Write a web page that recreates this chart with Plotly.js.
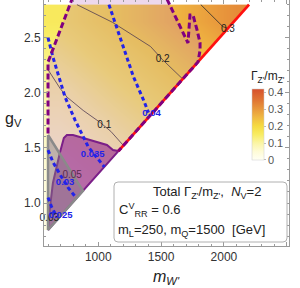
<!DOCTYPE html>
<html><head><meta charset="utf-8">
<script src="https://cdn.plot.ly/plotly-3.0.1.min.js"></script>
<style>html,body{margin:0;padding:0;background:#fff}#chart{width:300px;height:288px}</style>
</head><body><div id="chart"></div>
<script>
// ---- total width Gamma_Z'/m_Z' (heatmap grid, bin edges) ----
const gridXEdges = [568, 800, 1000, 1200, 1400, 1600, 1800, 2000, 2200];
const gridYEdges = [0.7, 1.0, 1.3, 1.6, 1.9, 2.2, 2.5, 2.8];
const widthRatio = [
  [0.033, 0.040, 0.047, 0.058, 0.072, 0.086, 0.100, 0.119],
  [0.043, 0.051, 0.065, 0.079, 0.093, 0.110, 0.129, 0.149],
  [0.058, 0.072, 0.086, 0.100, 0.119, 0.139, 0.158, 0.178],
  [0.079, 0.093, 0.110, 0.129, 0.149, 0.168, 0.187, 0.208],
  [0.100, 0.119, 0.139, 0.158, 0.178, 0.197, 0.220, 0.244],
  [0.129, 0.149, 0.168, 0.187, 0.208, 0.232, 0.256, 0.280],
  [0.158, 0.178, 0.197, 0.220, 0.244, 0.268, 0.292, 0.318]
];

// kinematic boundary
const diagX = [600, 2200];
const diagY = [0.755, 2.80];
const redX = [1160, 2200];
const redY = [1.471, 2.80];

// black contours of Gamma/m
const c01X = [600, 696, 752, 880, 1016, 1100, 1200];
const c01Y = [2.21, 2.04, 1.96, 1.84, 1.73, 1.65, 1.522];
const c02X = [830, 1112, 1416, 1512, 1672];
const c02Y = [2.80, 2.64, 2.42, 2.30, 2.125];
const c03X = [1816, 1992, 2030];
const c03Y = [2.80, 2.60, 2.585];
const blackLabels = ['0.1', '0.2', '0.3', '0.05', '0.03'];
const blackLabelX = [1048, 1512, 2032, 792, 610];
const blackLabelY = [1.70, 2.30, 2.57, 1.25, 0.86];

// blue dashed contours
const blue04X = [1085, 1232, 1280, 1360, 1400];
const blue04Y = [2.80, 2.30, 2.145, 1.935, 1.82];
const blue035X = [600, 640, 736, 816, 920, 1048];
const blue035Y = [2.50, 2.32, 1.96, 1.75, 1.51, 1.328];
const blue03X = [600, 640, 700, 760, 815];
const blue03Y = [1.48, 1.37, 1.25, 1.14, 1.06];
const blue025X = [600, 630, 672];
const blue025Y = [1.05, 0.96, 0.87];
const blueLabels = ['0.04', '0.035', '0.03', '0.025'];
const blueLabelX = [1424, 956, 736, 700];
const blueLabelY = [1.81, 1.435, 1.185, 0.885];

// purple dashed boundaries
const leftDashX = [600, 600, 614, 791];
const leftDashY = [1.63, 2.28, 2.32, 2.85];
const rightDashX = [1547, 1714, 1730, 1754, 1786, 1810, 1810, 1794, 1160];
const rightDashY = [2.85, 2.452, 2.706, 2.706, 2.57, 2.452, 2.388, 2.28, 1.471];

// excluded purple region
const blobX = [600, 616, 639, 662, 694, 726, 750, 799, 878, 990, 1069, 1117, 1160, 600];
const blobY = [0.755, 0.964, 1.182, 1.30, 1.454, 1.59, 1.617, 1.617, 1.59, 1.554, 1.527, 1.481, 1.471, 0.755];

// gray region
const grayX = [600, 878, 600, 600];
const grayY = [1.617, 1.11, 0.755, 1.617];

const FONT = 'Liberation Sans, Arial, sans-serif';

const colorscale = [
  [0, '#fffff4'], [0.12, '#fefbd6'], [0.24, '#fbf5a4'], [0.36, '#f8ec62'],
  [0.48, '#f5da40'], [0.6, '#f0b942'], [0.72, '#e8973c'], [0.84, '#e07634'], [1, '#d6502c']
];

const pinkX = leftDashX.concat(rightDashX, [diagX[0]]);
const pinkY = leftDashY.concat(rightDashY, [diagY[0]]);
const maskX = [diagX[0], diagX[1], diagX[1], 568, 568];
const maskY = [diagY[0], diagY[1], 0.5, 0.5, diagY[0]];

function line(x, y, color, width, dash) {
  return {type: 'scatter', mode: 'lines', x: x, y: y, hoverinfo: 'skip',
    line: {color: color, width: width, dash: dash || 'solid'}};
}
function fillPoly(x, y, color) {
  return {type: 'scatter', mode: 'lines', x: x, y: y, fill: 'toself', fillcolor: color,
    line: {width: 0, color: 'rgba(0,0,0,0)'}, hoverinfo: 'skip'};
}

const traces = [
  {type: 'heatmap', x: gridXEdges, y: gridYEdges, z: widthRatio, zsmooth: 'best',
   colorscale: colorscale, zmin: 0, zmax: 0.418, hoverinfo: 'skip',
   colorbar: {x: 0.849, xanchor: 'left', y: 0.3496, yanchor: 'bottom', len: 0.2886, lenmode: 'fraction',
     thickness: 12, thicknessmode: 'pixels', xpad: 0, ypad: 0, outlinewidth: 0.5, outlinecolor: '#ccc',
     tickvals: [0, 0.1, 0.2, 0.3, 0.4], ticktext: ['0', '0.1', '0.2', '0.3', '0.4'],
     ticks: 'outside', ticklen: 2, tickcolor: '#bbb', tickfont: {family: FONT, size: 11, color: '#555'}}},
  fillPoly(maskX, maskY, '#ffffff'),
  line(c01X, c01Y, '#2a2a2a', 0.8),
  line(c02X, c02Y, '#2a2a2a', 0.8),
  line(c03X, c03Y, '#2a2a2a', 0.8),
  fillPoly(pinkX, pinkY, 'rgba(190,110,190,0.27)'),
  fillPoly(blobX, blobY, 'rgba(130,0,130,0.5)'),
  line(blobX, blobY, '#7b1f88', 2),
  fillPoly(grayX, grayY, 'rgba(128,128,128,0.42)'),
  line(grayX, grayY, '#8a8a8a', 2.5),
  line(blue04X, blue04Y, '#2323e8', 3, '4px,3px'),
  line(blue035X, blue035Y, '#2323e8', 3, '4px,3px'),
  line(blue03X, blue03Y, '#2323e8', 3, '4px,3px'),
  line(blue025X, blue025Y, '#2323e8', 3, '4px,3px'),
  line(redX, redY, '#ff1010', 2.8),
  line(leftDashX, leftDashY, '#800080', 3, '6px,3px'),
  line(rightDashX, rightDashY, '#800080', 3, '6px,3px'),
  {type: 'scatter', mode: 'text', x: blackLabelX, y: blackLabelY, text: blackLabels, hoverinfo: 'skip',
   cliponaxis: false, textfont: {family: FONT, size: 10, color: ['#222', '#222', '#222', '#5a2a50', '#222']}},
  {type: 'scatter', mode: 'text', x: blueLabelX, y: blueLabelY, text: blueLabels, hoverinfo: 'skip',
   cliponaxis: false, textfont: {family: FONT, size: 9.5, color: '#2323e8', weight: 'bold'}}
];

function px2x(p) { return (p - 44) / 245; }
function px2y(p) { return (246 - p) / 246; }
const bx0 = px2x(114), bx1 = px2x(287), by0 = px2y(242), by1 = px2y(182), rx = 4 / 245, ry = 4 / 246;
const boxPath = 'M ' + (bx0 + rx) + ',' + by0 + ' L ' + (bx1 - rx) + ',' + by0 +
  ' Q ' + bx1 + ',' + by0 + ' ' + bx1 + ',' + (by0 + ry) + ' L ' + bx1 + ',' + (by1 - ry) +
  ' Q ' + bx1 + ',' + by1 + ' ' + (bx1 - rx) + ',' + by1 + ' L ' + (bx0 + rx) + ',' + by1 +
  ' Q ' + bx0 + ',' + by1 + ' ' + bx0 + ',' + (by1 - ry) + ' L ' + bx0 + ',' + (by0 + ry) +
  ' Q ' + bx0 + ',' + by0 + ' ' + (bx0 + rx) + ',' + by0 + ' Z';

function ann(text, xp, yp, size, anchor, color) {
  return {xref: 'paper', yref: 'paper', x: px2x(xp), y: px2y(yp), text: text, showarrow: false,
    xanchor: anchor || 'left', yanchor: 'middle', borderpad: 0,
    font: {family: FONT, size: size, color: color || '#222'}};
}

const axisCommon = {
  ticks: 'inside', ticklen: 4, tickcolor: '#9a9a9a', tickwidth: 1,
  showline: true, linecolor: '#9a9a9a', linewidth: 1, mirror: 'allticks',
  showgrid: false, zeroline: false, tickfont: {family: FONT, size: 12, color: '#333'}
};

const layout = {
  width: 300, height: 288, margin: {l: 44, r: 11, t: 0, b: 42},
  paper_bgcolor: '#fff', plot_bgcolor: '#fff', showlegend: false,
  font: {family: FONT, size: 12, color: '#333'},
  xaxis: Object.assign({}, axisCommon, {range: [568, 2518], tick0: 0, dtick: 500,
    minor: {ticks: 'inside', ticklen: 2, tick0: 0, dtick: 100, tickcolor: '#9a9a9a', showgrid: false}}),
  yaxis: Object.assign({}, axisCommon, {range: [0.610, 2.842], tick0: 0, dtick: 0.5, tickformat: '.1f',
    minor: {ticks: 'inside', ticklen: 2, tick0: 0, dtick: 0.1, tickcolor: '#9a9a9a', showgrid: false}}),
  shapes: [{type: 'path', xref: 'paper', yref: 'paper', path: boxPath, fillcolor: '#fff',
    line: {color: '#b0b0b0', width: 1}, layer: 'above'}],
  annotations: [
    ann("Γ<sub>Z'</sub>/m<sub>Z'</sub>", 250, 77, 12, 'left', '#222'),
    ann("Total Γ<sub>Z'</sub>/m<sub>Z'</sub>,  <i>N</i><sub>V</sub>=2", 152, 192, 13),
    ann("C<sup>V</sup><sub>RR</sub> = 0.6", 118, 210, 13),
    ann("m<sub>L</sub>=250, m<sub>Q</sub>=1500  [GeV]", 117, 230, 13),
    ann("<i>m</i><sub><i>W'</i></sub>", 166, 277, 16, 'center'),
    ann("g<sub>V</sub>", 13, 119, 16, 'center')
  ]
};

Plotly.newPlot('chart', traces, layout, {staticPlot: true, displayModeBar: false});
</script></body></html>
